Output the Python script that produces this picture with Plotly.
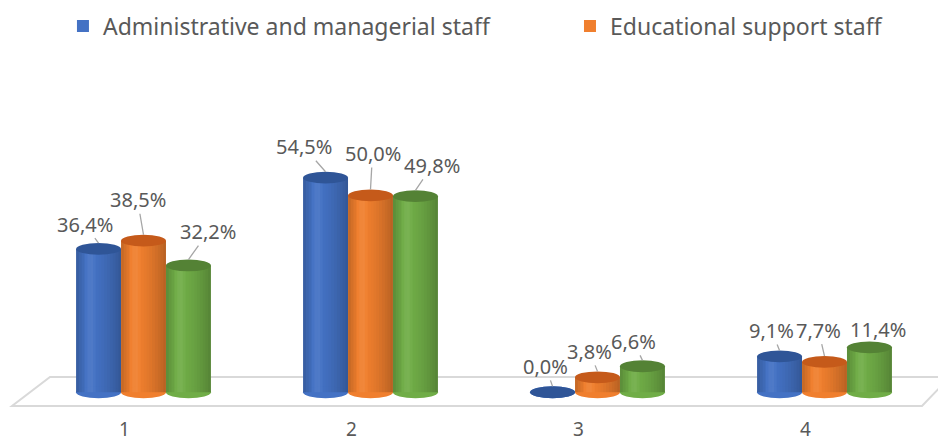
import plotly.graph_objects as go

# ---- data ----
categories = ["1", "2", "3", "4"]
series_names = ["Administrative and managerial staff", "Educational support staff", "Teaching staff"]
admin_values = [36.4, 54.5, 0.0, 9.1]
support_values = [38.5, 50.0, 3.8, 7.7]
teaching_values = [32.2, 49.8, 6.6, 11.4]
series_values = [admin_values, support_values, teaching_values]

# ---- style ----
PAGE_OFF = 8  # page body margin around the figure
W, H = 946 - PAGE_OFF, 443 - PAGE_OFF
ML, MR, MT, MB = 22, 8, 148, 35
body_colors = ["#4472C4", "#F07F2E", "#70AD47"]
top_colors = ["#2F5597", "#C55A1A", "#548235"]
text_color = "#595959"
FONT = "Noto Sans"
bar_w = 0.198
ell_h = 3.0  # ellipse height in y units

# label offsets (pixels) for leader-lined data labels: [series][category]
label_ax = [[-14, -22, -7, -8], [-6, 2, -8, -6], [20, 17, -9, 9]]
label_ay = [[-19, -25, -20, -20], [-35, -36, -20, -26], [-28, -25, -19, -12]]

x_pos = list(range(len(categories)))

fig = go.Figure()
shapes = []
annotations = []

def px_to_paper(px, py):
    fx, fy = px - PAGE_OFF, py - PAGE_OFF
    return (fx - ML) / (W - ML - MR), (H - MB - fy) / (H - MT - MB)

# floor
fl = [px_to_paper(50, 377), px_to_paper(950, 377), px_to_paper(922, 406), px_to_paper(12, 406)]
shapes.append(dict(type="path", xref="paper", yref="paper", layer="below",
                   path="M{},{} L{},{} L{},{} L{},{} Z".format(*[c for p in fl for c in p]),
                   line=dict(color="#D9D9D9", width=2), fillcolor="rgba(0,0,0,0)"))

# smooth cylinder shading profile (fraction across bar -> rgba overlay)
N_STRIPS = 16
shade = []
for s in range(N_STRIPS):
    t = (s + 0.5) / N_STRIPS
    d = t - 0.32
    if d < 0:
        a = 0.20 * (-d / 0.32) ** 1.6
    else:
        a = 0.24 * (d / 0.68) ** 1.6
    if abs(d) < 0.12:
        shade.append((s / N_STRIPS, (s + 1) / N_STRIPS, "rgba(255,255,255,%.3f)" % (0.08 * (1 - abs(d) / 0.12))))
    else:
        shade.append((s / N_STRIPS, (s + 1) / N_STRIPS, "rgba(0,0,0,%.3f)" % a))

for k, (name, vals) in enumerate(zip(series_names, series_values)):
    off = (k - 1.5) * bar_w
    fig.add_trace(go.Bar(
        x=x_pos, y=vals, name=name, width=bar_w, offset=off,
        marker=dict(color=body_colors[k], line=dict(width=0)),
        showlegend=(k < 2), legend=("legend" if k == 0 else "legend2"),
        hoverinfo="skip",
    ))
    for i, v in enumerate(vals):
        x0 = i + off
        x1 = x0 + bar_w
        # bottom ellipse
        shapes.append(dict(type="circle", xref="x", yref="y", layer="above",
                           x0=x0, x1=x1, y0=-ell_h / 2, y1=ell_h / 2,
                           fillcolor=body_colors[k], line=dict(width=0)))
        if v > 0:
            for a, b, c in shade:
                shapes.append(dict(type="rect", xref="x", yref="y", layer="above",
                                   x0=x0 + a * bar_w, x1=x0 + b * bar_w, y0=0, y1=v,
                                   fillcolor=c, line=dict(width=0)))
        # top ellipse
        shapes.append(dict(type="circle", xref="x", yref="y", layer="above",
                           x0=x0, x1=x1, y0=v - ell_h / 2, y1=v + ell_h / 2,
                           fillcolor=top_colors[k], line=dict(width=0)))
        # data label
        annotations.append(dict(
            x=x0 + bar_w / 2, y=v + ell_h / 2, xref="x", yref="y",
            text=("%.1f%%" % v).replace(".", ","),
            showarrow=True, arrowhead=0, arrowwidth=1.3, arrowcolor="#A6A6A6",
            ax=label_ax[k][i], ay=label_ay[k][i], standoff=0, startstandoff=0,
            font=dict(family=FONT, size=20, color=text_color), borderpad=0,
        ))

legend_common = dict(orientation="h", xanchor="left", y=1.516, yanchor="middle",
                     font=dict(family=FONT, size=23, color=text_color),
                     bgcolor="rgba(0,0,0,0)")

fig.update_layout(
    width=W, height=H,
    margin=dict(l=ML, r=MR, t=MT, b=MB, autoexpand=False),
    paper_bgcolor="white", plot_bgcolor="white",
    barmode="overlay",
    showlegend=True,
    legend=dict(x=0.0363, **legend_common),
    legend2=dict(x=0.5947, **legend_common),
    shapes=shapes, annotations=annotations,
    xaxis=dict(range=[-0.5, 3.5], tickmode="array", tickvals=x_pos, ticktext=categories,
               showgrid=False, zeroline=False, showline=False, ticks="", automargin=False,
               ticklabelshift=-19, ticklabelstandoff=8,
               tickfont=dict(family=FONT, size=19, color=text_color), fixedrange=True),
    yaxis=dict(range=[-4, 60], visible=False, showgrid=False, zeroline=False,
               automargin=False, fixedrange=True),
)

fig.write_html("out.html")
